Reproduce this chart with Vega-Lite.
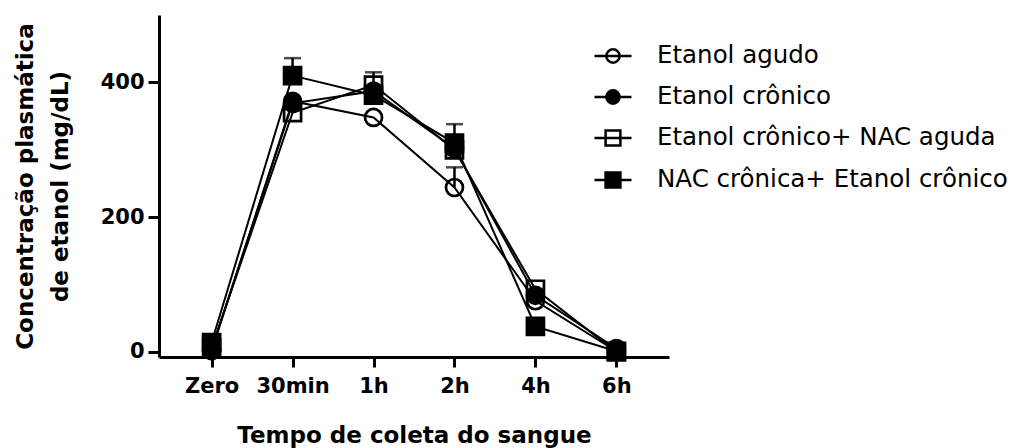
{
  "$schema": "https://vega.github.io/schema/vega-lite/v6.json",
  "width": 510,
  "height": 342,
  "autosize": {"type": "none"},
  "padding": {"left": 159, "top": 15, "right": 355, "bottom": 91},
  "background": "white",
  "config": {
    "view": {"stroke": null},
    "axis": {
      "grid": false,
      "domainColor": "black",
      "domainWidth": 3,
      "tickColor": "black",
      "tickWidth": 3,
      "labelColor": "black",
      "labelFont": "DejaVu Sans",
      "labelFontWeight": "bold",
      "labelFontSize": 21,
      "titleColor": "black",
      "titleFont": "DejaVu Sans",
      "titleFontWeight": "bold",
      "titleFontSize": 23
    }
  },
  "data": {
    "values": [
      {"tempo": "Zero", "grupo": "Etanol agudo", "conc": 2},
      {"tempo": "30min", "grupo": "Etanol agudo", "conc": 372},
      {"tempo": "1h", "grupo": "Etanol agudo", "conc": 348},
      {"tempo": "2h", "grupo": "Etanol agudo", "conc": 244, "sup": 274},
      {"tempo": "4h", "grupo": "Etanol agudo", "conc": 76},
      {"tempo": "6h", "grupo": "Etanol agudo", "conc": 1},
      {"tempo": "Zero", "grupo": "Etanol crônico", "conc": 4},
      {"tempo": "30min", "grupo": "Etanol crônico", "conc": 369},
      {"tempo": "1h", "grupo": "Etanol crônico", "conc": 387},
      {"tempo": "2h", "grupo": "Etanol crônico", "conc": 302},
      {"tempo": "4h", "grupo": "Etanol crônico", "conc": 84},
      {"tempo": "6h", "grupo": "Etanol crônico", "conc": 5},
      {"tempo": "Zero", "grupo": "Etanol crônico+ NAC aguda", "conc": 6},
      {"tempo": "30min", "grupo": "Etanol crônico+ NAC aguda", "conc": 355},
      {"tempo": "1h", "grupo": "Etanol crônico+ NAC aguda", "conc": 396, "sup": 415},
      {"tempo": "2h", "grupo": "Etanol crônico+ NAC aguda", "conc": 300},
      {"tempo": "4h", "grupo": "Etanol crônico+ NAC aguda", "conc": 93},
      {"tempo": "6h", "grupo": "Etanol crônico+ NAC aguda", "conc": 0},
      {"tempo": "Zero", "grupo": "NAC crônica+ Etanol crônico", "conc": 14},
      {"tempo": "30min", "grupo": "NAC crônica+ Etanol crônico", "conc": 410, "sup": 436},
      {"tempo": "1h", "grupo": "NAC crônica+ Etanol crônico", "conc": 381},
      {"tempo": "2h", "grupo": "NAC crônica+ Etanol crônico", "conc": 310, "sup": 338},
      {"tempo": "4h", "grupo": "NAC crônica+ Etanol crônico", "conc": 38},
      {"tempo": "6h", "grupo": "NAC crônica+ Etanol crônico", "conc": 1}
    ]
  },
  "encoding": {
    "x": {
      "field": "tempo",
      "type": "ordinal",
      "sort": ["Zero", "30min", "1h", "2h", "4h", "6h"],
      "scale": {"type": "point", "padding": 0.65},
      "axis": {
        "labelAngle": 0,
        "tickSize": 10,
        "labelPadding": 8,
        "title": "Tempo de coleta do sangue",
        "titlePadding": 28
      }
    },
    "y": {
      "field": "conc",
      "type": "quantitative",
      "scale": {"domain": [-7.5, 500], "nice": false, "zero": false},
      "axis": {
        "values": [0, 200, 400],
        "tickSize": 11,
        "labelPadding": 4,
        "title": ["Concentração plasmática", "de etanol (mg/dL)"],
        "titleLineHeight": 35,
        "titlePadding": 28
      }
    }
  },
  "layer": [
    {
      "mark": {"type": "line", "color": "black", "strokeWidth": 2},
      "encoding": {"detail": {"field": "grupo"}}
    },
    {
      "transform": [{"filter": "datum.sup != null"}],
      "mark": {"type": "rule", "color": "black", "strokeWidth": 2.5},
      "encoding": {"y2": {"field": "sup"}}
    },
    {
      "transform": [{"filter": "datum.sup != null"}],
      "mark": {"type": "tick", "color": "black", "size": 17, "thickness": 2.5},
      "encoding": {"y": {"field": "sup", "type": "quantitative"}}
    },
    {
      "mark": {"type": "point", "opacity": 1, "strokeWidth": 2.7, "size": 289},
      "encoding": {
        "shape": {
          "field": "grupo",
          "scale": {
            "domain": ["Etanol agudo", "Etanol crônico", "Etanol crônico+ NAC aguda", "NAC crônica+ Etanol crônico"],
            "range": ["circle", "circle", "square", "square"]
          },
          "legend": null
        },
        "fill": {
          "field": "grupo",
          "scale": {
            "domain": ["Etanol agudo", "Etanol crônico", "Etanol crônico+ NAC aguda", "NAC crônica+ Etanol crônico"],
            "range": ["transparent", "black", "transparent", "black"]
          },
          "legend": null
        },
        "stroke": {"value": "black"}
      }
    },
    {
      "mark": {"type": "point", "opacity": 0, "size": 289},
      "encoding": {
        "shape": {
          "field": "grupo",
          "scale": {
            "domain": ["Etanol agudo", "Etanol crônico", "Etanol crônico+ NAC aguda", "NAC crônica+ Etanol crônico"],
            "range": [
              "M-1,0H1M-0.36,0A0.36,0.36,0,1,1,0.36,0A0.36,0.36,0,1,1,-0.36,0Z",
              "M-1,0H1M-0.36,0A0.36,0.36,0,1,1,0.36,0A0.36,0.36,0,1,1,-0.36,0Z",
              "M-1,0H1M-0.4,-0.4H0.4V0.4H-0.4Z",
              "M-1,0H1M-0.4,-0.4H0.4V0.4H-0.4Z"
            ]
          },
          "legend": {
            "title": null,
            "orient": "none",
            "legendX": 434,
            "legendY": 21,
            "padding": 0,
            "symbolSize": 1369,
            "symbolStrokeWidth": 2.5,
            "symbolStrokeColor": "black",
            "symbolOpacity": 1,
            "labelFont": "DejaVu Sans",
            "labelFontSize": 24.5,
            "labelColor": "black",
            "labelLimit": 600,
            "labelOffset": 24,
            "rowPadding": 9,
            "encode": {"symbols": {"update": {"opacity": {"value": 1}, "stroke": {"value": "black"}, "strokeWidth": {"value": 2.5}}}}
          }
        },
        "fill": {
          "field": "grupo",
          "scale": {
            "domain": ["Etanol agudo", "Etanol crônico", "Etanol crônico+ NAC aguda", "NAC crônica+ Etanol crônico"],
            "range": ["transparent", "black", "transparent", "black"]
          },
          "legend": {
            "title": null,
            "orient": "none",
            "legendX": 434,
            "legendY": 21,
            "padding": 0,
            "symbolSize": 1369,
            "symbolStrokeWidth": 2.5,
            "symbolStrokeColor": "black",
            "symbolOpacity": 1,
            "labelFont": "DejaVu Sans",
            "labelFontSize": 24.5,
            "labelColor": "black",
            "labelLimit": 600,
            "labelOffset": 24,
            "rowPadding": 9,
            "encode": {"symbols": {"update": {"opacity": {"value": 1}, "stroke": {"value": "black"}, "strokeWidth": {"value": 2.5}}}}
          }
        },
        "stroke": {"value": "black"}
      }
    }
  ],
  "resolve": {
    "scale": {"shape": "independent", "fill": "independent"},
    "legend": {"shape": "independent", "fill": "independent"}
  }
}
